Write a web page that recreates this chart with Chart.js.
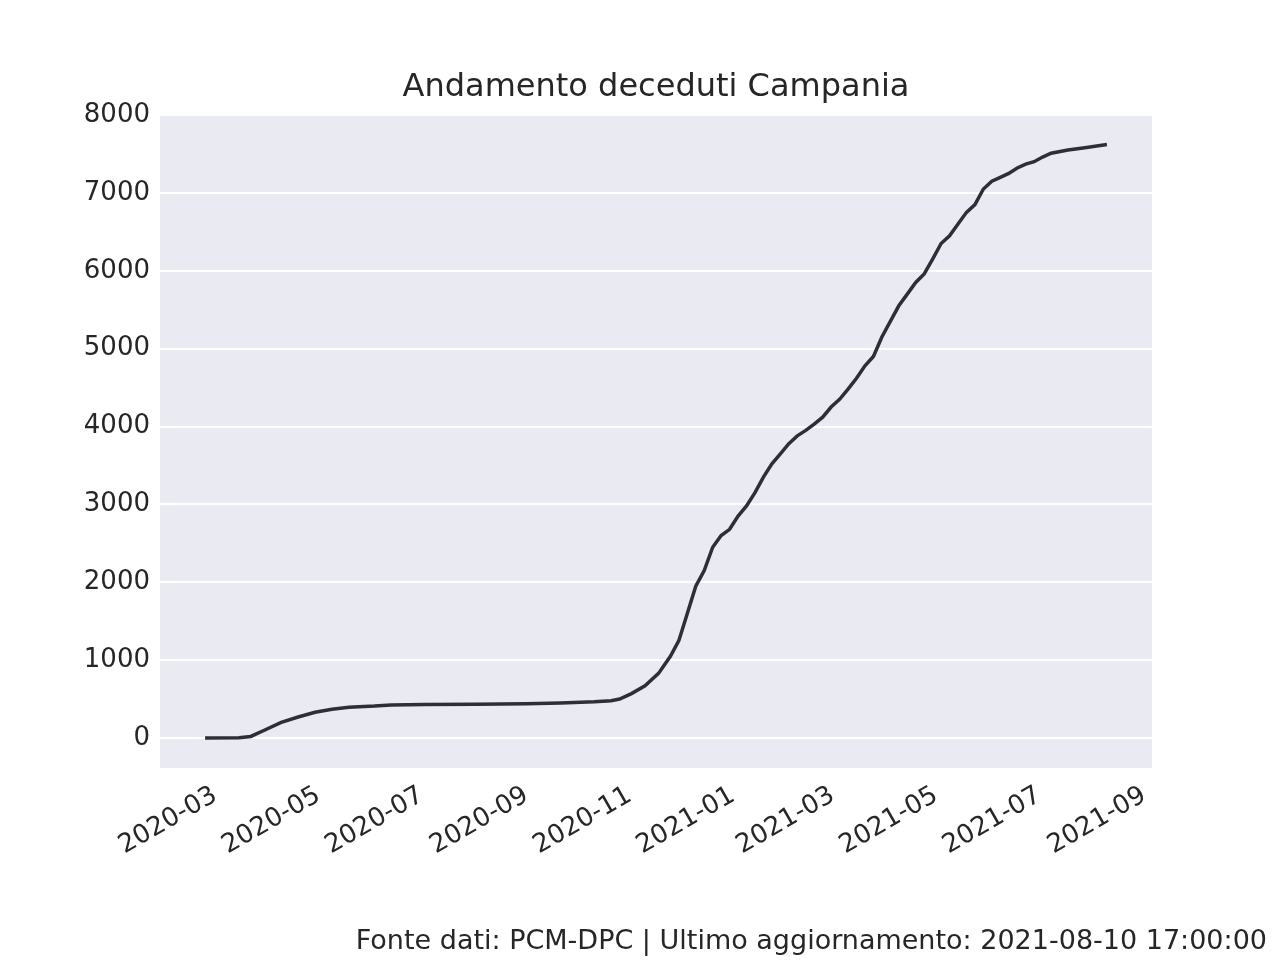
<!DOCTYPE html>
<html>
<head>
<meta charset="utf-8">
<script src="https://cdn.jsdelivr.net/npm/chart.js@4/dist/chart.umd.min.js"></script>
<style>
  body { margin: 0; background: #fff; }
  #wrap { width: 1280px; height: 960px; }
</style>
</head>
<body>
<div id="wrap"><canvas id="myChart" width="1280" height="960"></canvas></div>
<script>
// days counted from 2020-02-24 (first data point)
const days = [0, 20, 27, 35, 45, 55, 65, 75, 85, 100, 110, 130, 160, 190, 210, 230, 240, 245, 252, 260, 268, 275, 280, 285, 290, 295, 300, 305, 310, 315, 320, 325, 330, 335, 340, 345, 350, 355, 360, 365, 370, 375, 380, 385, 390, 395, 400, 405, 410, 415, 420, 425, 430, 435, 440, 445, 450, 455, 460, 465, 470, 475, 480, 485, 490, 495, 500, 510, 520, 533];
const deceduti = [0, 5, 20, 100, 200, 270, 330, 370, 395, 410, 425, 430, 432, 440, 450, 465, 480, 500, 570, 670, 830, 1050, 1250, 1600, 1950, 2150, 2450, 2600, 2680, 2850, 2980, 3150, 3350, 3520, 3650, 3780, 3880, 3950, 4030, 4120, 4250, 4350, 4480, 4620, 4780, 4900, 5150, 5350, 5550, 5700, 5850, 5960, 6150, 6350, 6450, 6600, 6750, 6850, 7050, 7150, 7200, 7250, 7320, 7370, 7400, 7460, 7510, 7550, 7580, 7620];
const xTickDays = [6, 67, 128, 190, 251, 312, 371, 432, 493, 555];
const xTickLabels = ['2020-03', '2020-05', '2020-07', '2020-09', '2020-11', '2021-01', '2021-03', '2021-05', '2021-07', '2021-09'];
const yTicks = [0, 1000, 2000, 3000, 4000, 5000, 6000, 7000, 8000];

const font = { family: 'DejaVu Sans', size: 26 };

const decor = {
    id: 'decor',
    beforeDraw(chart) {
        const { ctx, chartArea: a } = chart;
        ctx.save();
        ctx.fillStyle = '#eaeaf2';
        ctx.fillRect(a.left, a.top, a.right - a.left, a.bottom - a.top);
        ctx.restore();
    },
    afterDraw(chart) {
        const ctx = chart.ctx;
        ctx.save();
        ctx.fillStyle = '#262626';
        ctx.font = '32px DejaVu Sans';
        ctx.textAlign = 'center';
        ctx.textBaseline = 'middle';
        ctx.fillText('Andamento deceduti Campania', 656, 88);
        ctx.font = '27px DejaVu Sans';
        ctx.textAlign = 'right';
        ctx.fillText('Fonte dati: PCM-DPC | Ultimo aggiornamento: 2021-08-10 17:00:00', 1267, 942);
        ctx.restore();
    }
};

new Chart(document.getElementById('myChart').getContext('2d'), {
    type: 'line',
    data: {
        datasets: [{
            data: days.map((d, i) => ({ x: d, y: deceduti[i] })),
            borderColor: '#2e2e38',
            borderWidth: 3.5,
            pointRadius: 0,
            tension: 0,
            fill: false
        }]
    },
    options: {
        responsive: false,
        animation: false,
        devicePixelRatio: 1,
        layout: { padding: { top: 115, right: 128, left: 0, bottom: 0 } },
        plugins: { legend: { display: false }, tooltip: { enabled: false } },
        scales: {
            x: {
                type: 'linear',
                min: -26.65,
                max: 559.65,
                afterBuildTicks: s => { s.ticks = xTickDays.map(v => ({ value: v })); },
                afterFit: s => { s.height = 192; },
                grid: { display: false },
                border: { display: false },
                ticks: {
                    font, color: '#262626', minRotation: 30, maxRotation: 30, padding: 4,
                    callback: v => xTickLabels[xTickDays.indexOf(v)]
                }
            },
            y: {
                min: -385,
                max: 8000,
                afterBuildTicks: s => { s.ticks = yTicks.map(v => ({ value: v })); },
                afterFit: s => { s.width = 160; },
                grid: { color: '#ffffff', lineWidth: 2, drawTicks: false },
                border: { display: false },
                ticks: { font, color: '#262626', padding: 10, callback: v => String(v) }
            }
        }
    },
    plugins: [decor]
});
</script>
</body>
</html>
